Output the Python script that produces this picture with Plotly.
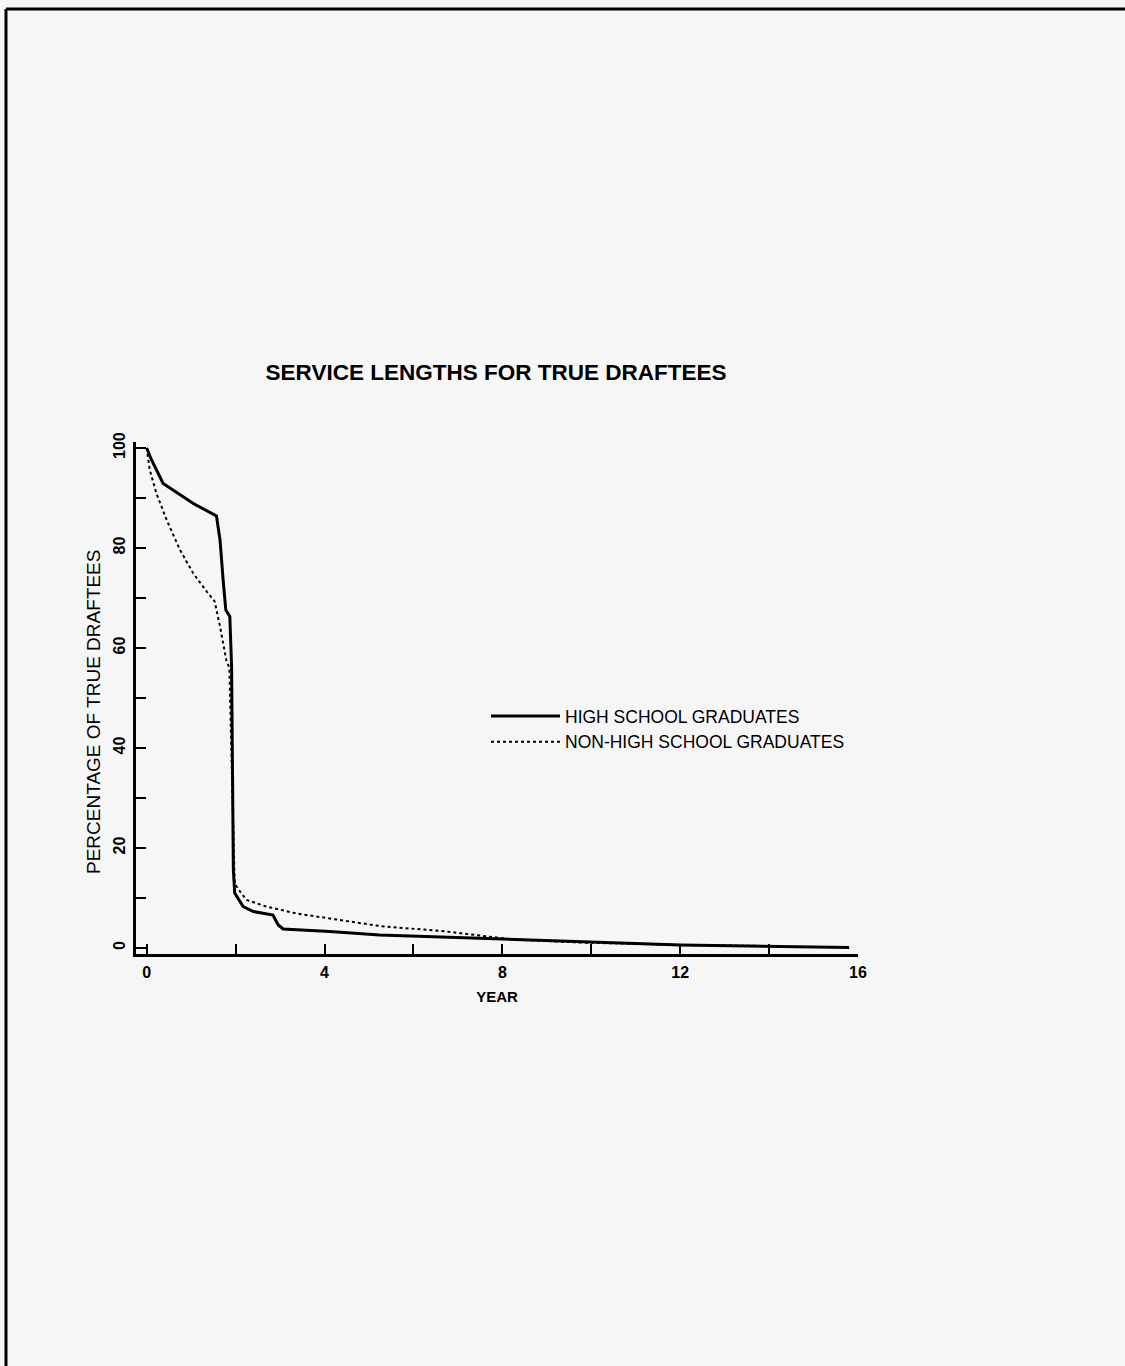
import plotly.graph_objects as go

# --- data ---
hs_year = [0.0, 0.11, 0.37, 0.75, 1.05, 1.57, 1.65, 1.72, 1.78, 1.87, 1.91, 1.95, 1.98,
           2.17, 2.40, 2.84, 2.96, 3.07, 4.12, 5.24, 8.23, 12.0, 15.8]
hs_pct = [100.0, 97.6, 92.9, 90.6, 88.9, 86.4, 81.6, 73.6, 67.6, 66.3, 56.3, 15.6, 11.0,
          8.3, 7.3, 6.6, 4.6, 3.8, 3.3, 2.6, 1.7, 0.6, 0.1]

nhs_year = [0.0, 0.07, 0.22, 0.45, 0.75, 1.05, 1.35, 1.53, 1.65, 1.79, 1.86, 1.93, 1.98,
            2.10, 2.25, 2.69, 3.37, 4.12, 5.24, 6.74, 8.24, 9.74, 12.0, 14.0]
nhs_pct = [100.0, 95.6, 90.9, 85.6, 79.6, 74.9, 71.3, 69.3, 64.3, 57.6, 56.0, 30.0, 12.9,
           11.3, 9.6, 8.3, 6.9, 5.9, 4.4, 3.3, 1.7, 1.1, 0.6, 0.4]

series_names = ["HIGH SCHOOL GRADUATES", "NON-HIGH SCHOOL GRADUATES"]

x_tickvals = [0, 2, 4, 6, 8, 10, 12, 14, 16]
x_ticktext = ["0", "", "4", "", "8", "", "12", "", "16"]
y_tickvals = [0, 10, 20, 30, 40, 50, 60, 70, 80, 90, 100]
y_ticktext = ["0", "", "20", "", "40", "", "60", "", "80", "", "100"]

title_text = "SERVICE LENGTHS FOR TRUE DRAFTEES"
x_title = "YEAR"
y_title = "PERCENTAGE OF TRUE DRAFTEES"

# --- layout geometry (pixels) ---
W, H = 1125, 1366
L, R, T, B = 136, 858, 442, 954
pw, ph = R - L, B - T

def px_x(p):
    return (p - L) / pw

def px_y(p):
    return (B - p) / ph

FONT = "Liberation Sans, Arial, sans-serif"
BG = "#f6f6f6"

fig = go.Figure()
fig.add_trace(go.Scatter(x=hs_year, y=hs_pct, mode="lines", name=series_names[0],
                         line=dict(color="black", width=3)))
fig.add_trace(go.Scatter(x=nhs_year, y=nhs_pct, mode="lines", name=series_names[1],
                         line=dict(color="black", width=2, dash="dot")))

axis_common = dict(showgrid=False, zeroline=False, showline=True, linecolor="black",
                   linewidth=3, ticks="inside", ticklen=10, tickwidth=2,
                   tickcolor="black", mirror=False,
                   tickfont=dict(family=FONT, size=16, color="black", weight="bold"))

fig.update_xaxes(range=[-0.24, 16.0], tickmode="array", tickvals=x_tickvals,
                 ticktext=x_ticktext, ticklabelstandoff=2,
                 title=dict(text=x_title, standoff=12,
                            font=dict(family=FONT, size=15, color="black", weight="bold")),
                 **axis_common)
fig.update_yaxes(range=[-1.2, 101.2], tickmode="array", tickvals=y_tickvals,
                 ticktext=y_ticktext, tickangle=-90, ticklabelstandoff=2,
                 **axis_common)

fig.update_layout(
    width=W, height=H,
    margin=dict(l=L, r=W - R, t=T, b=H - B, pad=0),
    paper_bgcolor=BG, plot_bgcolor=BG,
    font=dict(family=FONT, color="black"),
    title=dict(text=title_text, xref="paper", yref="container",
               x=px_x(496), xanchor="center", y=1 - 372 / H, yanchor="middle",
               font=dict(family=FONT, size=22.5, color="black", weight="bold")),
    showlegend=True,
    legend=dict(x=px_x(486), y=px_y(698), xanchor="left", yanchor="top",
                bgcolor="rgba(0,0,0,0)", borderwidth=0,
                font=dict(family=FONT, size=17.5, color="black"),
                itemwidth=69, tracegroupgap=4),
    annotations=[dict(text=y_title, xref="paper", yref="paper",
                      x=px_x(93), y=px_y(712), xanchor="center", yanchor="middle",
                      textangle=-90, showarrow=False,
                      font=dict(family=FONT, size=19, color="black"))],
    shapes=[
        dict(type="line", xref="paper", yref="paper", x0=px_x(6), y0=px_y(9),
             x1=px_x(W + 5), y1=px_y(9), line=dict(color="black", width=3)),
        dict(type="line", xref="paper", yref="paper", x0=px_x(6), y0=px_y(9),
             x1=px_x(6), y1=px_y(H + 5), line=dict(color="black", width=3)),
    ],
)

fig.write_html("out.html", config={"displayModeBar": False},
               post_script="document.body.style.margin='0';document.body.style.overflow='hidden';")
